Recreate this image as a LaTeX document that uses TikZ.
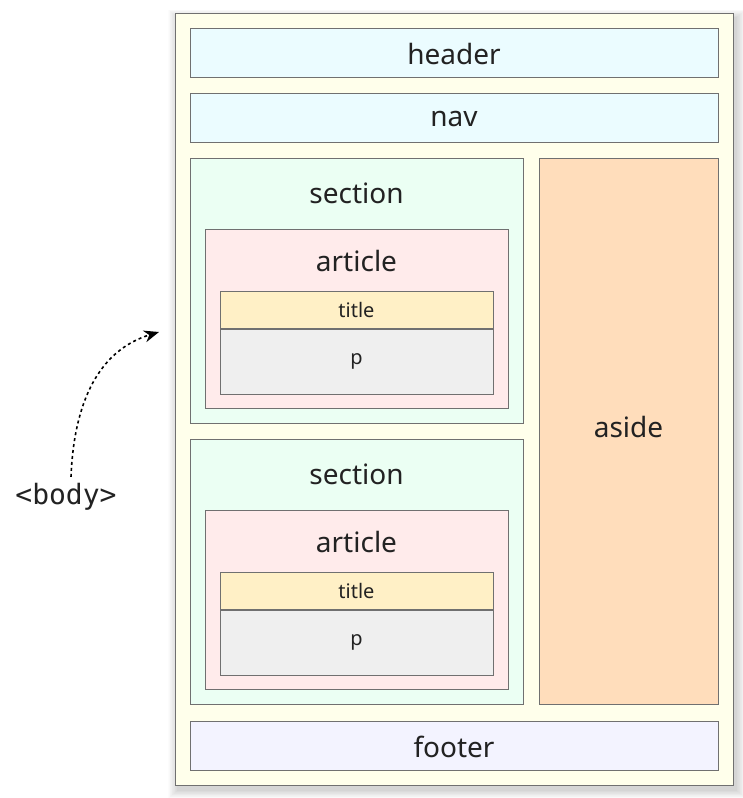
\documentclass[tikz,border=0pt]{standalone}
\usepackage{fontspec}
\setmainfont{Noto Sans}
\setmonofont{DejaVu Sans Mono}
\usetikzlibrary{positioning, arrows.meta, calc}
\definecolor{edgegray}{HTML}{707070}
\definecolor{inkgray}{HTML}{222222}
\definecolor{bodyfill}{HTML}{FFFFEB}
\definecolor{headfill}{HTML}{EBFCFF}
\definecolor{secfill}{HTML}{EBFFF3}
\definecolor{artfill}{HTML}{FFEBEB}
\definecolor{titlefill}{HTML}{FFF0C6}
\definecolor{pfill}{HTML}{EFEFEF}
\definecolor{asidefill}{HTML}{FFDDBB}
\definecolor{footfill}{HTML}{F3F3FF}
\tikzset{
    box/.style={ % every rectangle of the layout
        draw=edgegray,
        line width=1pt,
        inner sep=0pt,
        text=inkgray
    },
    big/.style={font=\fontsize{28}{32}\selectfont, text=inkgray},
    small/.style={font=\fontsize{20}{24}\selectfont, text=inkgray},
}

\begin{document}
\begin{tikzpicture}[x=1pt, y=-1pt]
            \useasboundingbox (0,0) rectangle (743,798);
            % soft shadow of the body
            \foreach \i in {1,...,14} {
                \fill[black, opacity=0.012] (175-\i*0.7+3,13-\i*0.6+5) rectangle (733+\i*0.7+3,785+\i*0.6+5);
            }
            \draw[box, fill=bodyfill] (175,13) rectangle (733,785);

            \node[box, fill=headfill, minimum width=528pt, minimum height=49pt]  (header) at (454,52.5)  {};
            \node[box, fill=headfill, minimum width=528pt, minimum height=49pt]  (nav)    at (454,117.5) {};
            \node[box, fill=footfill, minimum width=528pt, minimum height=49pt]  (footer) at (454,745.5) {};
            \node[box, fill=asidefill, minimum width=179pt, minimum height=546pt] (aside) at (628.5,431) {};
            \node[big] (headerlbl) at (454,54) {header};
            \node[big] (navlbl) at (454,119) {nav};
            \node[big] (footerlbl) at (454,747) {footer};
            \node[big] (asidelbl) at (628.5,427) {aside};

            % two sections, each with one article
            \foreach \nm/\yo in {A/0, B/281} {
                \node[box, fill=secfill, minimum width=333pt, minimum height=265pt] (sec\nm) at (356.5,290.5+\yo) {};
                \node[big] (seclbl\nm) at (356.5,193+\yo) {section};
                \node[box, fill=artfill, minimum width=303pt, minimum height=179pt] (art\nm) at (356.5,318.5+\yo) {};
                \node[big] (artlbl\nm) at (356.5,261+\yo) {article};
                \node[box, fill=titlefill, minimum width=273pt, minimum height=37pt, small] (title\nm) at (356.5,309.5+\yo) {title};
                \node[box, fill=pfill, minimum width=273pt, minimum height=65pt, small, below=0pt of title\nm] (p\nm) {p};
            }

            \node[font=\ttfamily\fontsize{28}{32}\selectfont, text=inkgray] (bodylbl) at (66,497) {<body>};
            \coordinate (bodytip) at (159,332);
            \draw[line width=1.6pt, dash pattern=on 3pt off 3pt, -{Stealth[length=15pt,width=12pt]}]
                ($(bodylbl.north)+(5,-3)$) .. controls (74,400) and (100,350) .. (bodytip);
\end{tikzpicture}
\end{document}
